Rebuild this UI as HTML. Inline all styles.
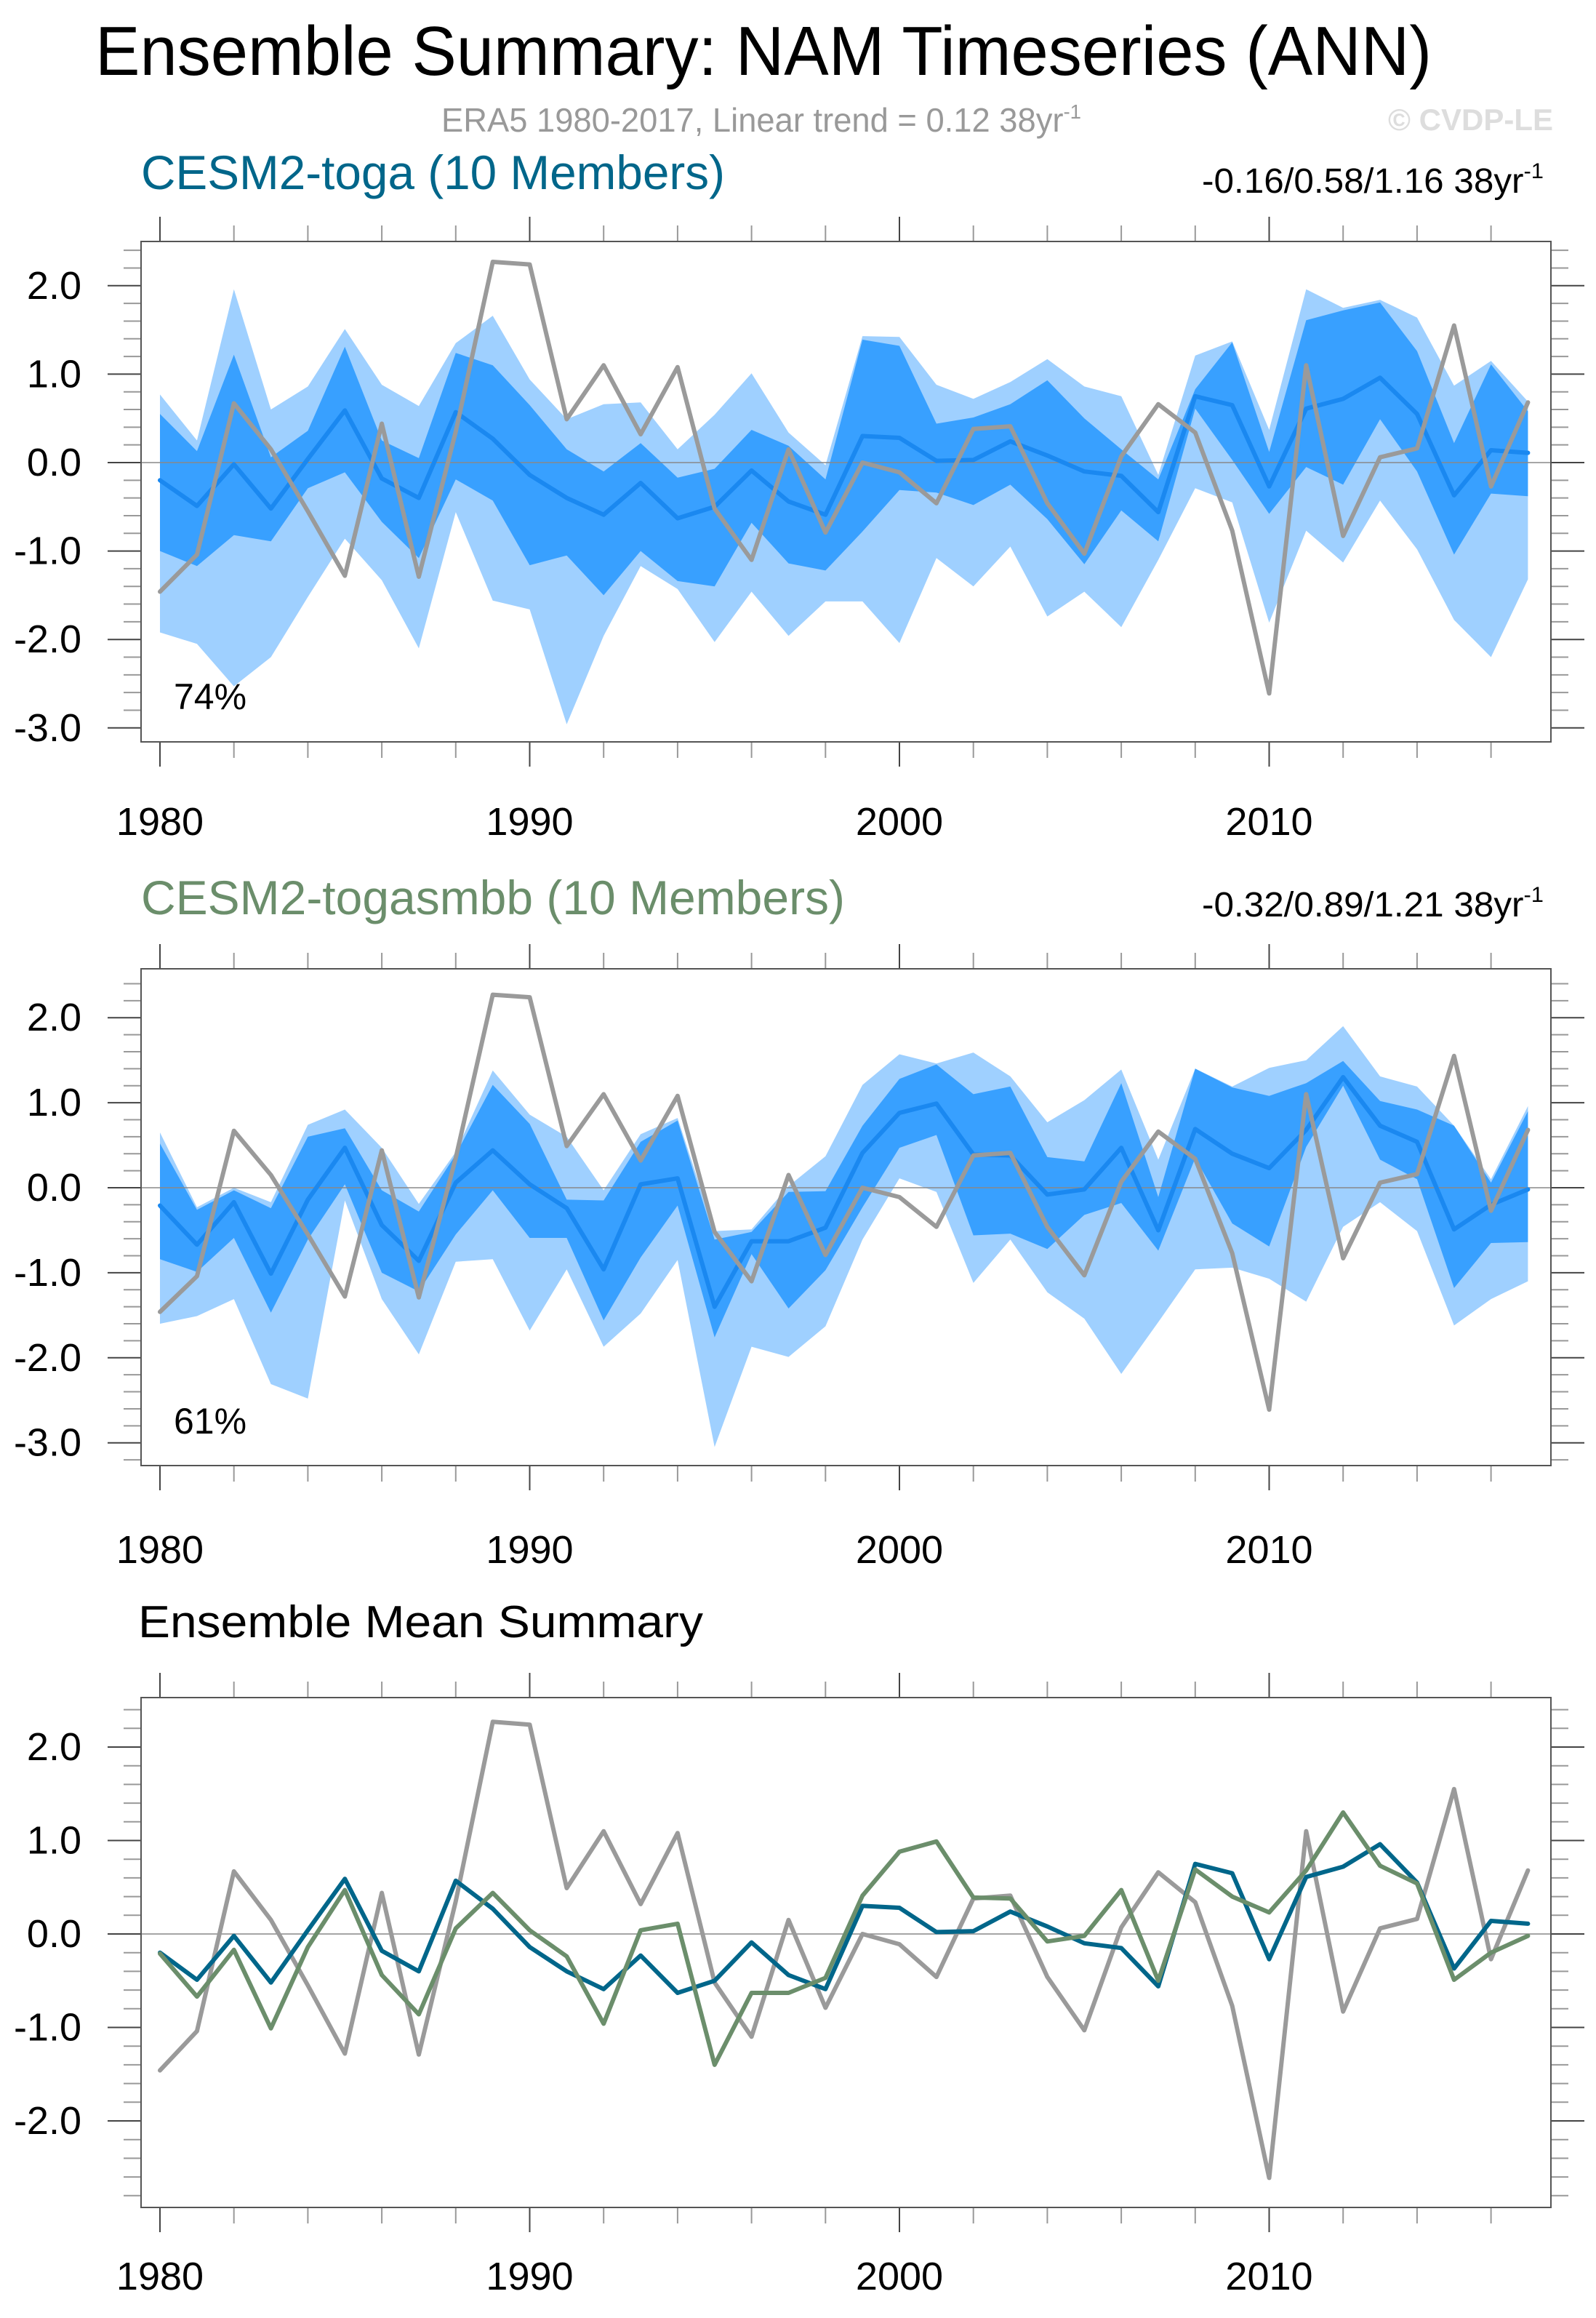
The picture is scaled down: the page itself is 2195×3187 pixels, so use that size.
<!DOCTYPE html>
<html><head><meta charset="utf-8"><title>Ensemble Summary: NAM Timeseries (ANN)</title>
<style>html,body{margin:0;padding:0;background:#fff}svg{display:block}text{font-family:"Liberation Sans",sans-serif}</style>
</head><body>
<svg id="chart" width="2195" height="3187" viewBox="0 0 2195 3187" xmlns="http://www.w3.org/2000/svg">
<rect x="0" y="0" width="2195" height="3187" fill="#fff"/>
<text x="131" y="103" font-size="96" textLength="1838" lengthAdjust="spacingAndGlyphs" fill="#000">Ensemble Summary: NAM Timeseries (ANN)</text>
<text x="607" y="181" font-size="46" fill="#999" textLength="880" lengthAdjust="spacingAndGlyphs">ERA5 1980-2017, Linear trend = 0.12 38yr<tspan dy="-18" font-size="28">-1</tspan></text>
<text x="2136" y="179" font-size="42" font-weight="bold" fill="#ddd" text-anchor="end">© CVDP-LE</text>
<text x="194" y="260" font-size="66" fill="#00668a" textLength="803" lengthAdjust="spacingAndGlyphs">CESM2-toga (10 Members)</text>
<text x="1653" y="265" font-size="48" fill="#000" textLength="470" lengthAdjust="spacingAndGlyphs">-0.16/0.58/1.16 38yr<tspan dy="-20" font-size="30">-1</tspan></text>
<text x="194" y="1257" font-size="66" fill="#6b8e6b" textLength="968" lengthAdjust="spacingAndGlyphs">CESM2-togasmbb (10 Members)</text>
<text x="1653" y="1260" font-size="48" fill="#000" textLength="470" lengthAdjust="spacingAndGlyphs">-0.32/0.89/1.21 38yr<tspan dy="-20" font-size="30">-1</tspan></text>
<text x="190" y="2251" font-size="62" fill="#000" textLength="777" lengthAdjust="spacingAndGlyphs">Ensemble Mean Summary</text>
<g id="plots"></g>
</svg>
<script>
const years = [1980,1981,1982,1983,1984,1985,1986,1987,1988,1989,1990,1991,1992,1993,1994,1995,1996,1997,1998,1999,2000,2001,2002,2003,2004,2005,2006,2007,2008,2009,2010,2011,2012,2013,2014,2015,2016,2017];
const era5 = [-1.46,-1.04,0.67,0.15,-0.55,-1.28,0.44,-1.29,0.35,2.27,2.24,0.49,1.10,0.32,1.08,-0.52,-1.10,0.15,-0.79,0.0,-0.11,-0.46,0.38,0.41,-0.46,-1.03,0.07,0.66,0.34,-0.77,-2.61,1.10,-0.83,0.06,0.16,1.55,-0.27,0.68];
const togaMean = [-0.20,-0.49,-0.02,-0.52,0.04,0.59,-0.18,-0.40,0.57,0.27,-0.14,-0.40,-0.59,-0.23,-0.63,-0.50,-0.09,-0.44,-0.59,0.30,0.28,0.02,0.03,0.24,0.08,-0.10,-0.15,-0.56,0.75,0.65,-0.27,0.61,0.72,0.96,0.55,-0.37,0.14,0.11];
const togaOuterHi = [0.77,0.25,1.96,0.60,0.86,1.51,0.88,0.64,1.35,1.66,0.94,0.49,0.66,0.68,0.15,0.54,1.01,0.34,-0.03,1.43,1.42,0.88,0.72,0.91,1.17,0.86,0.75,-0.14,1.21,1.37,0.37,1.96,1.75,1.84,1.64,0.87,1.15,0.69];
const togaInnerHi = [0.55,0.13,1.22,0.06,0.36,1.31,0.25,0.05,1.24,1.10,0.65,0.15,-0.10,0.22,-0.17,-0.07,0.37,0.19,-0.19,1.39,1.32,0.44,0.51,0.66,0.93,0.50,0.15,-0.19,0.83,1.36,0.12,1.61,1.72,1.81,1.26,0.22,1.11,0.58];
const togaInnerLo = [-1.00,-1.17,-0.82,-0.89,-0.29,-0.11,-0.67,-1.08,-0.19,-0.43,-1.16,-1.05,-1.50,-1.00,-1.34,-1.40,-0.68,-1.14,-1.22,-0.78,-0.31,-0.34,-0.48,-0.25,-0.64,-1.15,-0.54,-0.89,0.61,0.03,-0.58,-0.05,-0.25,0.49,-0.10,-1.04,-0.35,-0.38];
const togaOuterLo = [-1.92,-2.05,-2.53,-2.20,-1.52,-0.86,-1.33,-2.10,-0.56,-1.56,-1.66,-2.96,-1.96,-1.17,-1.43,-2.03,-1.46,-1.96,-1.57,-1.57,-2.04,-1.08,-1.40,-0.95,-1.74,-1.46,-1.86,-1.10,-0.29,-0.45,-1.81,-0.77,-1.13,-0.43,-0.98,-1.78,-2.20,-1.32];
const smbbMean = [-0.21,-0.67,-0.17,-1.01,-0.14,0.47,-0.44,-0.86,0.06,0.44,0.04,-0.24,-0.96,0.04,0.11,-1.40,-0.63,-0.63,-0.47,0.41,0.88,0.99,0.39,0.38,-0.08,-0.02,0.47,-0.50,0.69,0.40,0.23,0.68,1.30,0.73,0.54,-0.49,-0.20,-0.02];
const smbbOuterHi = [0.65,-0.23,0.00,-0.17,0.74,0.92,0.47,-0.19,0.42,1.38,0.86,0.60,-0.03,0.63,0.82,-0.51,-0.49,0.02,0.37,1.21,1.57,1.46,1.59,1.31,0.77,1.03,1.39,0.33,1.40,1.19,1.41,1.50,1.90,1.31,1.19,0.73,0.10,0.96];
const smbbInnerHi = [0.52,-0.26,-0.03,-0.24,0.60,0.70,-0.03,-0.28,0.39,1.21,0.75,-0.14,-0.15,0.54,0.79,-0.61,-0.52,-0.05,-0.04,0.73,1.28,1.45,1.10,1.19,0.36,0.31,1.23,-0.11,1.40,1.18,1.08,1.23,1.49,1.02,0.92,0.73,0.06,0.90];
const smbbInnerLo = [-0.84,-0.99,-0.59,-1.47,-0.61,0.04,-1.00,-1.22,-0.55,-0.03,-0.59,-0.59,-1.56,-0.82,-0.21,-1.76,-0.78,-1.42,-0.97,-0.23,0.47,0.62,-0.56,-0.54,-0.72,-0.32,-0.18,-0.74,0.35,-0.42,-0.69,0.48,1.20,0.33,0.10,-1.18,-0.65,-0.64];
const smbbOuterLo = [-1.60,-1.51,-1.31,-2.31,-2.48,-0.15,-1.31,-1.96,-0.87,-0.84,-1.68,-0.96,-1.87,-1.48,-0.85,-3.05,-1.87,-1.99,-1.63,-0.61,0.11,-0.05,-1.12,-0.61,-1.23,-1.54,-2.19,-1.58,-0.96,-0.94,-1.07,-1.34,-0.46,-0.17,-0.51,-1.62,-1.31,-1.10];
const yTickLabels12 = ["2.0","1.0","0.0","-1.0","-2.0","-3.0"];
const yTickValues12 = [2,1,0,-1,-2,-3];
const yTickLabels3 = ["2.0","1.0","0.0","-1.0","-2.0"];
const yTickValues3 = [2,1,0,-1,-2];
const xTickYears = [1980,1990,2000,2010];

const NS = "http://www.w3.org/2000/svg";
const root = document.getElementById('plots');
function mk(tag, attrs, parent){const e=document.createElementNS(NS,tag);for(const k in attrs)e.setAttribute(k,attrs[k]);(parent||root).appendChild(e);return e;}

const X0 = 220, XSTEP = 50.85, LEFT = 194, RIGHT = 2133;
function xs(yr){return X0 + (yr-1980)*XSTEP;}

const panels = [
 {top:332, bottom:1020, zero:636, unit:121.6, ticks:yTickValues12, labels:yTickLabels12, xlab:1148, name:'panel1', pct:'74%', pctY:975},
 {top:1332, bottom:2015, zero:1633, unit:116.9, ticks:yTickValues12, labels:yTickLabels12, xlab:2149, name:'panel2', pct:'61%', pctY:1971},
 {top:2334, bottom:3035, zero:2659, unit:128.5, ticks:yTickValues3, labels:yTickLabels3, xlab:3148, name:'panel3', pct:null}
];

function linePath(vals, p){return vals.map((v,i)=>(i?'L':'M')+xs(years[i]).toFixed(1)+','+(p.zero - v*p.unit).toFixed(1)).join(' ');}
function bandPath(hi, lo, p){
  let d = hi.map((v,i)=>(i?'L':'M')+xs(years[i]).toFixed(1)+','+(p.zero - v*p.unit).toFixed(1)).join(' ');
  for(let i=lo.length-1;i>=0;i--) d+=' L'+xs(years[i]).toFixed(1)+','+(p.zero - lo[i]*p.unit).toFixed(1);
  return d+' Z';
}

panels.forEach((p,pi)=>{
  const g = mk('g',{});
  
  
  for(let k=-16;k<=12;k++){
    const v=k*0.2; const y=p.zero - v*p.unit;
    if(y < p.top+2 || y > p.bottom-2) continue;
    const major = Math.abs(v-Math.round(v))<1e-6;
    const len = major?46:24;
    const t1 = mk('line',{x1:LEFT-len,x2:LEFT,y1:y,y2:y,stroke:major?'#444':'#999','stroke-width':2},g);
    
    
    const t2 = mk('line',{x1:RIGHT,x2:RIGHT+len,y1:y,y2:y,stroke:major?'#444':'#999','stroke-width':2},g);
    
    
  }
  p.ticks.forEach((v,i)=>{
    const t = mk('text',{x:112,y:p.zero - v*p.unit + 18,'font-size':54,'text-anchor':'end',fill:'#000'},g);
    t.textContent = p.labels[i];
    
    
  });
  for(let yr=1980; yr<=2018; yr+=2){
    const x=xs(yr); if(x>RIGHT-2) continue;
    const major = (yr%10===0);
    const len = major?34:22;
    const a = mk('line',{x1:x,x2:x,y1:p.top-len,y2:p.top,stroke:major?'#444':'#999','stroke-width':2},g);
    
    
    const b = mk('line',{x1:x,x2:x,y1:p.bottom,y2:p.bottom+len,stroke:major?'#444':'#999','stroke-width':2},g);
    
    
  }
  xTickYears.forEach(yr=>{
    const t = mk('text',{x:xs(yr),y:p.xlab,'font-size':54,'text-anchor':'middle',fill:'#000'},g);
    t.textContent = String(yr);
    
    
  });
  if(pi<2){
    const oh = pi===0?togaOuterHi:smbbOuterHi, ol = pi===0?togaOuterLo:smbbOuterLo;
    const ih = pi===0?togaInnerHi:smbbInnerHi, il = pi===0?togaInnerLo:smbbInnerLo;
    const ob = mk('path',{d:bandPath(oh,ol,p),fill:'#9fd0ff',stroke:'none'},g);
    
    
    const ib = mk('path',{d:bandPath(ih,il,p),fill:'#38a0ff',stroke:'none'},g);
    
    
  }
  const zl = mk('line',{x1:LEFT,x2:RIGHT,y1:p.zero,y2:p.zero,stroke:'#888','stroke-width':1.5},g);
  
  
  if(pi<2){
    const mean = pi===0?togaMean:smbbMean;
    const ml = mk('path',{d:linePath(mean,p),fill:'none',stroke:'#1a88f0','stroke-width':6,'stroke-linejoin':'round','stroke-linecap':'round'},g);
    
    
    const el = mk('path',{d:linePath(era5,p),fill:'none',stroke:'#9a9a9a','stroke-width':6,'stroke-linejoin':'round','stroke-linecap':'round'},g);
    
    
  } else {
    const el = mk('path',{d:linePath(era5,p),fill:'none',stroke:'#9a9a9a','stroke-width':6,'stroke-linejoin':'round','stroke-linecap':'round'},g);
    
    
    const tl = mk('path',{d:linePath(togaMean,p),fill:'none',stroke:'#00668a','stroke-width':6,'stroke-linejoin':'round','stroke-linecap':'round'},g);
    
    
    const sl = mk('path',{d:linePath(smbbMean,p),fill:'none',stroke:'#6b8e6b','stroke-width':6,'stroke-linejoin':'round','stroke-linecap':'round'},g);
    
    
  }
  const fr = mk('rect',{x:LEFT,y:p.top,width:RIGHT-LEFT,height:p.bottom-p.top,fill:'none',stroke:'#555','stroke-width':2},g);
  
  
  if(p.pct){
    const t = mk('text',{x:239,y:p.pctY,'font-size':50,fill:'#000'},g);
    t.textContent = p.pct;
    
    
  }
});
</script>
</body></html>
